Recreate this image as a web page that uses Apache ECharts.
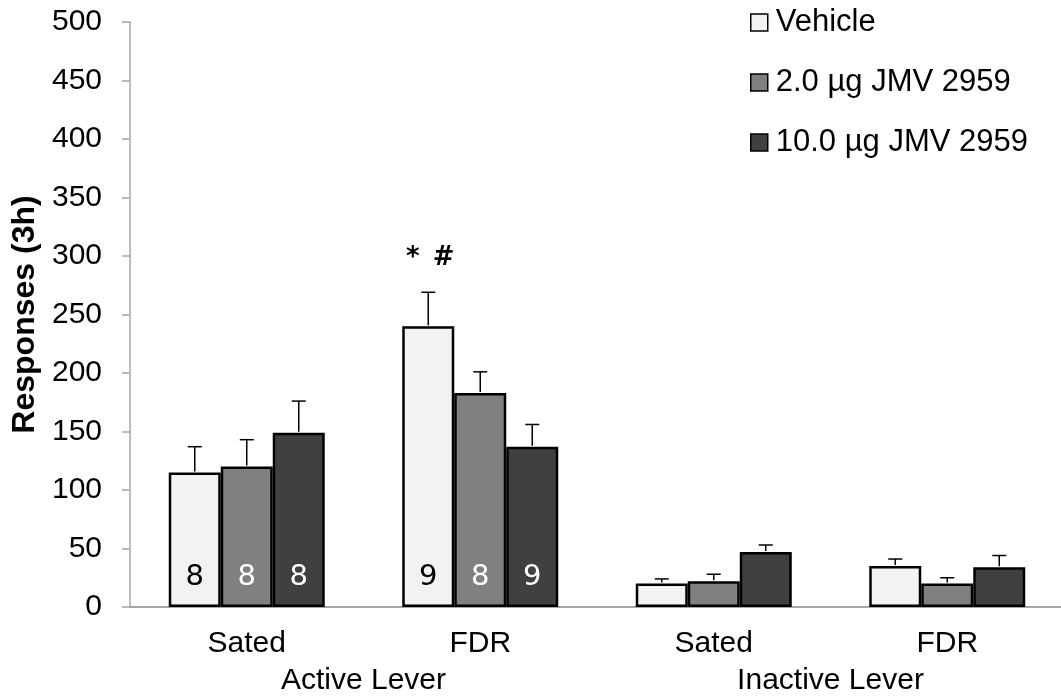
<!DOCTYPE html>
<html><head><meta charset="utf-8">
<script src="https://cdn.jsdelivr.net/npm/echarts@6/dist/echarts.min.js"></script>
<style>html,body{margin:0;padding:0;background:#fff}#c{width:1061px;height:698px}</style>
</head><body><div id="c"></div>
<script>
const categories = ['Sated', 'FDR', 'Sated', 'FDR'];
const groups = ['Active Lever', 'Inactive Lever'];
const seriesNames = ['Vehicle', '2.0 µg JMV 2959', '10.0 µg JMV 2959'];
const vehicle = [115, 240, 20, 35];
const jmv2 = [120, 183, 22, 20];
const jmv10 = [149, 137, 47, 34];
const vehicleErr = [22, 29, 4, 6];
const jmv2Err = [23, 18, 6, 5];
const jmv10Err = [27, 19, 6, 10];
const vehicleN = ['8', '9', '', ''];
const jmv2N = ['8', '8', '', ''];
const jmv10N = ['8', '9', '', ''];
const sigMarks = ['', '*\u2002#', '', ''];
const yMin = 0, yMax = 500, yInterval = 50;

const colors = ['#f2f2f2', '#808080', '#404040'];
const labelColors = ['#000', '#fff', '#fff'];
const values = [vehicle, jmv2, jmv10];
const errs = [vehicleErr, jmv2Err, jmv10Err];
const ns = [vehicleN, jmv2N, jmv10N];
const BAR_W = 52;
const FONT = '"Liberation Sans", Arial, sans-serif';

const barSeries = seriesNames.map((name, s) => ({
  name, type: 'bar', xAxisIndex: 0, yAxisIndex: 0,
  data: values[s], barWidth: BAR_W, barGap: '0%',
  itemStyle: { color: colors[s], borderColor: '#000', borderWidth: 2.5 },
  label: {
    show: true, position: 'insideBottom', distance: 15,
    formatter: p => ns[s][p.dataIndex],
    color: labelColors[s], fontSize: 29, fontFamily: '"DejaVu Sans", sans-serif'
  },
  emphasis: { disabled: true }, animation: false
}));

const errData = [];
values.forEach((arr, s) => arr.forEach((v, i) => errData.push([i, v, errs[s][i], s])));

const errSeries = {
  type: 'custom', xAxisIndex: 0, yAxisIndex: 0, data: errData, z: 5,
  animation: false, silent: true,
  renderItem(params, api) {
    const i = api.value(0), v = api.value(1), e = api.value(2), s = api.value(3);
    const base = api.coord([i, v]);
    const top = api.coord([i, v + e]);
    const x = base[0] + (s - 1) * BAR_W;
    const st = { stroke: '#000', lineWidth: 1.5 };
    const children = [
      { type: 'line', shape: { x1: x, y1: base[1] - 1, x2: x, y2: top[1] }, style: st },
      { type: 'line', shape: { x1: x - 7, y1: top[1], x2: x + 7, y2: top[1] }, style: st }
    ];
    if (s === 0 && sigMarks[i]) {
      children.push({ type: 'text', x: x + 2, y: top[1] - 34,
        style: { text: sigMarks[i], fill: '#000', fontSize: 26, fontWeight: 'bold',
          fontFamily: '"DejaVu Sans", sans-serif', align: 'center', verticalAlign: 'middle' } });
    }
    return { type: 'group', children };
  }
};

const chart = echarts.init(document.getElementById('c'));
chart.setOption({
  backgroundColor: '#fff',
  animation: false,
  grid: { left: 130, right: -3, top: 22, bottom: 91, containLabel: false, outerBoundsMode: 'none' },
  legend: {
    data: seriesNames, orient: 'vertical', left: 745, top: 2,
    itemWidth: 17, itemHeight: 17, itemGap: 29, icon: 'rect',
    itemStyle: { borderColor: '#000', borderWidth: 1.5 },
    textStyle: { fontSize: 31, lineHeight: 31, fontFamily: FONT, color: '#000', padding: [0, 0, 0, 3] },
    selectedMode: false
  },
  xAxis: [
    { type: 'category', data: categories, position: 'bottom',
      axisLine: { lineStyle: { color: '#a6a6a6', width: 2 } },
      axisTick: { alignWithLabel: true, length: 8, lineStyle: { color: '#a6a6a6', width: 1.5 } },
      axisLabel: { fontSize: 30, margin: 22, color: '#000', fontFamily: FONT } },
    { type: 'category', data: groups, position: 'bottom', gridIndex: 0,
      axisLine: { show: false }, axisTick: { show: false },
      axisLabel: { fontSize: 30, margin: 59, color: '#000', fontFamily: FONT } }
  ],
  yAxis: {
    type: 'value', min: yMin, max: yMax, interval: yInterval,
    name: 'Responses (3h)', nameLocation: 'middle', nameGap: 88,
    nameTextStyle: { fontSize: 32, fontWeight: 'bold', color: '#000', fontFamily: FONT },
    axisLine: { show: true, lineStyle: { color: '#a6a6a6', width: 1.5 } },
    axisTick: { show: true, length: 8, lineStyle: { color: '#a6a6a6', width: 1.5 } },
    splitLine: { show: false },
    axisLabel: { fontSize: 30, margin: 28, color: '#000', fontFamily: FONT }
  },
  series: [...barSeries, errSeries]
});
</script></body></html>
